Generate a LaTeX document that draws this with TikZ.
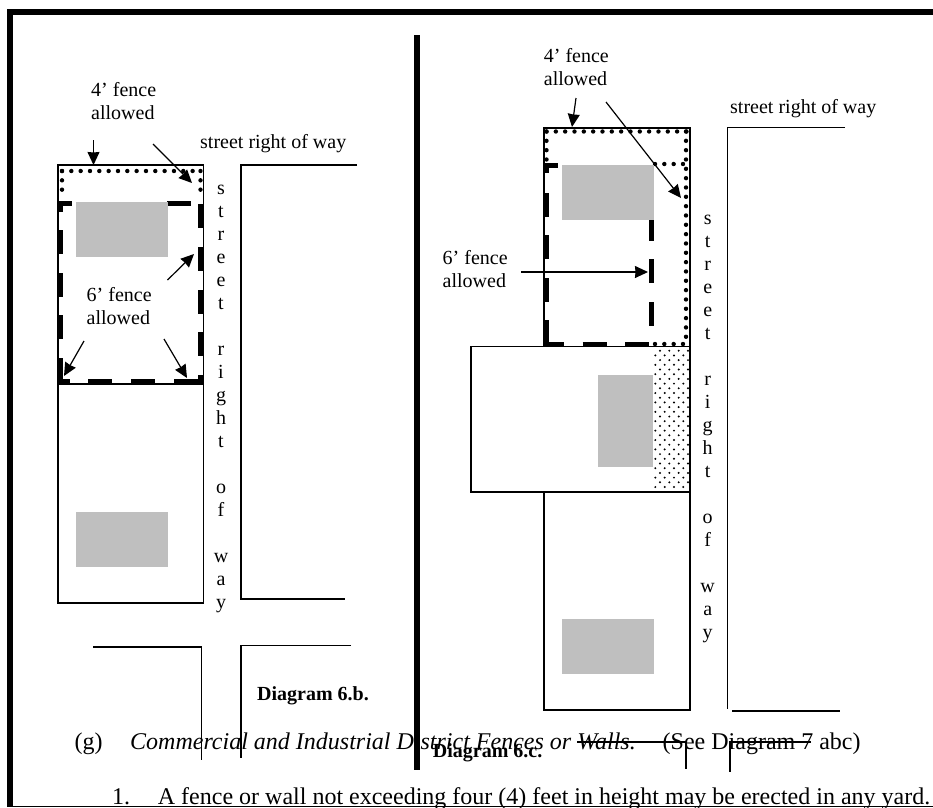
\documentclass[tikz,border=0pt]{standalone}
\usepackage{fontspec}
\setmainfont{Liberation Serif}
\usetikzlibrary{arrows.meta}
\tikzset{
  px/.style={x=1pt,y=-1pt},
  lot/.style={draw=black,line width=1.2pt,fill=white},
  edge/.style={draw=black,line width=1.2pt},
  house/.style={fill=black!25,draw=none},
  frame/.style={fill=black,draw=none},
  txt/.style={anchor=base west,inner sep=0pt,yshift=-1pt,font=\fontsize{20}{24}\selectfont},
  btxt/.style={txt,yshift=-1pt,font=\fontsize{20}{24}\selectfont\bfseries},
  bigtxt/.style={txt,yshift=-1pt,font=\fontsize{24}{28}\selectfont},
  itxt/.style={txt,yshift=-1pt,font=\fontsize{24}{28}\selectfont\itshape},
  letter/.style={anchor=base,inner sep=0pt,yshift=-0.5pt,font=\fontsize{20}{24}\selectfont},
  dots/.style={draw=black,line width=4.4pt,line cap=round,dash pattern=on 0pt off 9.33pt},
  bar/.style={draw=black,line width=5pt},
  callout/.style={draw=black,line width=1.2pt,-{Stealth[length=13pt,width=12pt,inset=0.5pt]}},
}
\begin{document}
\begin{tikzpicture}[px]
\useasboundingbox (0,0) rectangle (933,807);
\clip (0,0) rectangle (933,807);
% frame
\fill[frame] (7,9) rectangle (933,15);
\fill[frame] (7,9) rectangle (13,807);
\fill[frame] (7,805.5) rectangle (933,807);
\fill[frame] (414,35) rectangle (419.5,770);
% left diagram lots
\path[lot] (58,165) rectangle (203.5,384);
\path[lot] (58,384) rectangle (203.5,603);
% left dotted fence
\draw[dots] (62,171) -- (201,171);
\draw[dots] (62,171) -- (62,197);
\draw[dots] (200.5,171) -- (200.5,197);
% left dashed fence
\foreach \a/\b in {58/72,167/191}{\draw[bar] (\a,203.5) -- (\b,203.5);}
\foreach \a/\b in {203/212,230/254,273/297,315/339,358/384}{\draw[bar] (60.5,\a) -- (60.5,\b);}
\foreach \a/\b in {204/228,247/271,290/314,332/356,375/385}{\draw[bar] (200,\a) -- (200,\b);}
\foreach \a/\b in {58/70,88/112,131/155,174/203}{\draw[bar] (\a,381.5) -- (\b,381.5);}
\fill[house] (76,202) rectangle (168,257);
\fill[house] (76,512) rectangle (168,567);
% left street
\draw[edge] (357,165) -- (241,165) -- (241,599) -- (345,599);
\draw[edge] (93,647) -- (201.5,647) -- (201.5,760);
\draw[edge] (351,645.5) -- (241,645.5) -- (241,758);
% left callouts
\draw[callout] (93.5,140) -- (93.5,165);
\draw[callout] (153,144) -- (192,183);
\draw[callout] (167.5,280) -- (194,254);
\draw[callout] (84,341) -- (64,376);
\draw[callout] (164,339) -- (187,378);
% left labels
\node[txt] (la) at (91,95) {4’ fence};
\node[txt] (lb) at (91,118) {allowed};
\node[txt] (lc) at (200,147) {street right of way};
\node[txt] (ld) at (86.5,300) {6’ fence};
\node[txt] (le) at (86.5,323) {allowed};
\foreach \c/\y in {s/194,t/217,r/240,e/263,e/286,t/309,r/355,i/378,g/401,h/424,t/447,o/493,f/516,w/562,a/585,y/608}{
  \node[letter] (ls\y) at (221,\y) {\c};}
% right diagram lots
\path[lot] (544,128) rectangle (690,346.5);
\path[lot] (471,346.5) rectangle (690,492);
\path[lot] (544,492) rectangle (690,710);
% stipple
\foreach \r in {0,...,29}{
  \pgfmathsetmacro{\yy}{350.7+\r*4.7}
  \pgfmathsetmacro{\xo}{mod(\r,2)==0 ? 660 : 655.33}
  \foreach \k in {0,...,3}{
    \pgfmathsetmacro{\xx}{\xo+\k*9.33}
    \fill[black] (\xx,\yy) circle[radius=1.1pt];
  }
}
% right dotted fence
\draw[dots] (546.5,131.5) -- (688,131.5);
\draw[dots] (546.5,131.5) -- (546.5,160);
\draw[dots] (686,131.5) -- (686,345);
\draw[dots] (655,164) -- (686,164);
\draw[dots] (655,344) -- (686,344);
% right dashed fence
\draw[bar] (544,165.5) -- (558,165.5);
\foreach \a/\b in {165/173,193/217,235/259,278/302,320/346}{\draw[bar] (546.5,\a) -- (546.5,\b);}
\foreach \a/\b in {544/564,582.5/606.5,625/649}{\draw[bar] (\a,344) -- (\b,344);}
\foreach \a/\b in {217/241,259/283,302/326}{\draw[bar] (651,\a) -- (651,\b);}
\fill[house] (562,165) rectangle (654,220);
\fill[house] (598,375) rectangle (653,467);
\fill[house] (562,619) rectangle (654,674);
% right street
\draw[edge] (845,127.5) -- (727.5,127.5) -- (727.5,709);
\draw[edge] (732,711) -- (840,711);
\draw[edge] (577,742) -- (686,742) -- (686,769);
\draw[edge] (811,742) -- (730,742) -- (730,772);
% right callouts
\draw[callout] (576,98) -- (572,127);
\draw[callout] (606,102) -- (681,198);
\draw[callout] (521,272) -- (648,272);
% right labels
\node[txt] (ra) at (543.7,61.7) {4’ fence};
\node[txt] (rb) at (543.7,84.5) {allowed};
\node[txt] (rc) at (730,112) {street right of way};
\node[txt] (rd) at (442.5,263) {6’ fence};
\node[txt] (re) at (442.5,286) {allowed};
\foreach \c/\y in {s/224,t/247,r/270,e/293,e/316,t/339,r/385,i/408,g/431,h/454,t/477,o/523,f/546,w/592,a/615,y/638}{
  \node[letter] (rs\y) at (707.7,\y) {\c};}
% captions and body text
\node[btxt] (c1) at (257,698) {Diagram 6.b.};
\node[btxt] (c2) at (432.7,755) {Diagram 6.c.};
\node[bigtxt] (g1) at (74.5,747.5) {(g)};
\node[itxt] (g2) at (130,747.5) {Commercial and Industrial District Fences or Walls.};
\node[bigtxt] (g3) at (662.5,747.5) {(See Diagram 7 abc)};
\node[bigtxt] (n1) at (112,802.7) {1.};
\node[bigtxt] (n2) at (157.7,802.7) {A fence or wall not exceeding four (4) feet in height may be erected in any yard.};
\end{tikzpicture}
\end{document}
